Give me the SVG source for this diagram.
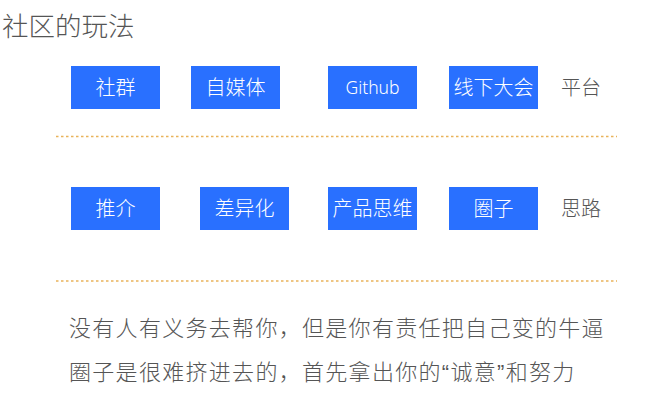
<svg xmlns="http://www.w3.org/2000/svg" width="650" height="415" viewBox="0 0 650 415">
<style>
.box{fill:#2970FF;}
.bt{fill:#FFFFFF;font-family:"Noto Sans CJK SC","Noto Sans",sans-serif;font-size:20px;text-anchor:middle;font-weight:300;}
.lat{font-family:"Noto Sans","Noto Sans CJK SC",sans-serif;font-size:17.5px;}
.lbl{fill:#555555;font-family:"Noto Sans CJK SC",sans-serif;font-size:20px;font-weight:300;}
.title{fill:#555555;font-family:"Noto Sans CJK SC",sans-serif;font-size:26.5px;font-weight:300;}
.body{fill:#555555;font-family:"Liberation Sans","Noto Sans CJK SC",sans-serif;font-size:22px;letter-spacing:1.3px;font-weight:300;}
.sep{stroke:#E9B35A;stroke-width:1.6;stroke-dasharray:2.5 2.5;fill:none;}
</style>
<rect width="650" height="415" fill="#FFFFFF"/>
<text id="title" class="title" x="2" y="36">社区的玩法</text>
<g id="connectors">
<line class="sep" x1="56" y1="136.5" x2="617" y2="136.5"/>
<line class="sep" x1="56" y1="281" x2="617" y2="281"/>
</g>
<g id="n-shequn"><rect class="box" x="71" y="66" width="89" height="43"/><text class="bt" x="115.5" y="95">社群</text></g>
<g id="n-zimeiti"><rect class="box" x="191" y="66" width="89" height="43"/><text class="bt" x="235.5" y="95">自媒体</text></g>
<g id="n-github"><rect class="box" x="328" y="66" width="89" height="43"/><text class="bt lat" x="372.5" y="94">Github</text></g>
<g id="n-xianxia"><rect class="box" x="449" y="66" width="89" height="43"/><text class="bt" x="493.5" y="95">线下大会</text></g>
<text id="lbl-pingtai" class="lbl" x="561" y="95">平台</text>
<g id="n-tuijie"><rect class="box" x="71" y="187" width="89" height="43"/><text class="bt" x="115.5" y="216">推介</text></g>
<g id="n-chayihua"><rect class="box" x="200" y="187" width="89" height="43"/><text class="bt" x="244.5" y="216">差异化</text></g>
<g id="n-chanpin"><rect class="box" x="328" y="187" width="89" height="43"/><text class="bt" x="372.5" y="216">产品思维</text></g>
<g id="n-quanzi"><rect class="box" x="449" y="187" width="89" height="43"/><text class="bt" x="493.5" y="216">圈子</text></g>
<text id="lbl-silu" class="lbl" x="561" y="216">思路</text>
<text class="body" x="69" y="336">没有人有义务去帮你，但是你有责任把自己变的牛逼</text>
<text class="body" x="69" y="380">圈子是很难挤进去的，首先拿出你的“诚意”和努力</text>
</svg>
